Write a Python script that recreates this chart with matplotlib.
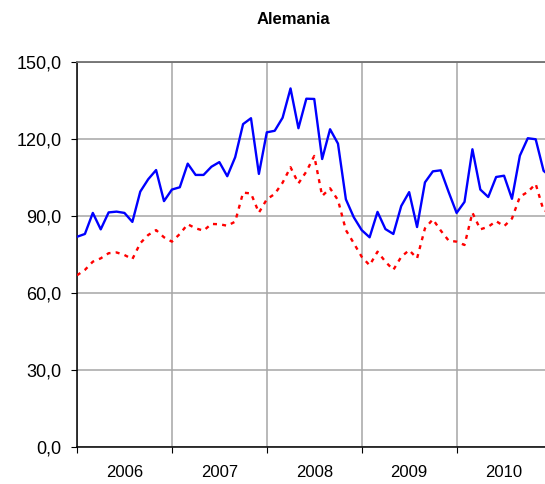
import matplotlib
matplotlib.use("Agg")
import matplotlib.pyplot as plt

plt.rcParams['font.family'] = ['Liberation Sans', 'DejaVu Sans']

# monthly index values, Jan 2006 onwards
years = ['2006', '2007', '2008', '2009', '2010']
blue = [81.9, 83.0, 91.2, 84.8, 91.4, 91.7, 91.2, 87.7, 99.5, 104.3, 107.9, 95.8,
        100.3, 101.2, 110.4, 106.0, 106.0, 109.2, 111.0, 105.5, 112.9, 125.8, 128.1, 106.4,
        122.6, 123.2, 128.3, 139.7, 124.2, 135.7, 135.6, 112.2, 123.8, 118.2, 96.5, 89.5,
        84.5, 81.7, 91.6, 84.9, 83.0, 93.9, 99.3, 85.7, 103.1, 107.4, 107.8, 99.3,
        91.2, 95.5, 116.0, 100.3, 97.4, 105.2, 105.7, 96.7, 113.5, 120.3, 119.9, 107.6,
        105.0]
red = [66.9, 69.0, 72.2, 73.5, 75.5, 75.8, 74.8, 73.2, 79.4, 82.6, 84.5, 81.7,
       80.0, 83.0, 86.8, 85.2, 84.3, 86.9, 86.8, 86.2, 87.8, 99.1, 98.8, 91.3,
       96.5, 98.6, 103.0, 109.0, 102.7, 107.3, 113.4, 97.8, 100.8, 96.2, 84.5, 79.4,
       74.1, 70.8, 76.1, 72.2, 69.0, 74.1, 76.7, 73.5, 85.2, 88.7, 84.3, 80.4,
       80.0, 78.7, 91.3, 84.8, 85.8, 88.0, 86.0, 89.0, 97.5, 99.4, 102.5, 92.1,
       91.5]

fig = plt.figure(figsize=(5.45, 4.84), dpi=100)
ax = fig.add_axes([77 / 545, 1 - 447 / 484, 1 - 77 / 545 + 0.002, (447 - 62) / 484])

x = list(range(len(blue)))
ax.plot(x, blue, color='#0000ff', lw=1.7, zorder=3)
ax.plot(x, red, color='#ff0000', lw=1.7, linestyle=(0, (1.7, 2.2)), zorder=3)

ax.set_xlim(0, (545 - 77) / 7.89)
ax.set_ylim(0, 150)
ax.set_yticks([0, 30, 60, 90, 120, 150])
ax.set_yticklabels(['0,0', '30,0', '60,0', '90,0', '120,0', '150,0'], fontsize=13)

ax.set_xticks([0, 12, 24, 36, 48])
ax.set_xticklabels([])
ax.set_xticks([6, 18, 30, 42, 54], minor=True)
ax.set_xticklabels(years, minor=True, fontsize=12)
ax.tick_params(axis='x', which='minor', length=0, pad=13)
ax.tick_params(axis='x', which='major', length=4.5, color='black')
ax.tick_params(axis='y', length=4.5, pad=6.5)

ax.grid(True, which='major', color='#a6a6a6', lw=1.1)
ax.set_axisbelow(True)
for s in ['left', 'bottom']:
    ax.spines[s].set_color('black')
    ax.spines[s].set_linewidth(1.1)
ax.spines['right'].set_visible(False)
ax.spines['top'].set_color('#707070')
ax.spines['top'].set_linewidth(1.3)

fig.text(293 / 545, 1 - 20 / 484, 'Alemania', ha='center', va='center',
         fontsize=12, fontweight='bold')

fig.savefig('out.png', dpi=100)
